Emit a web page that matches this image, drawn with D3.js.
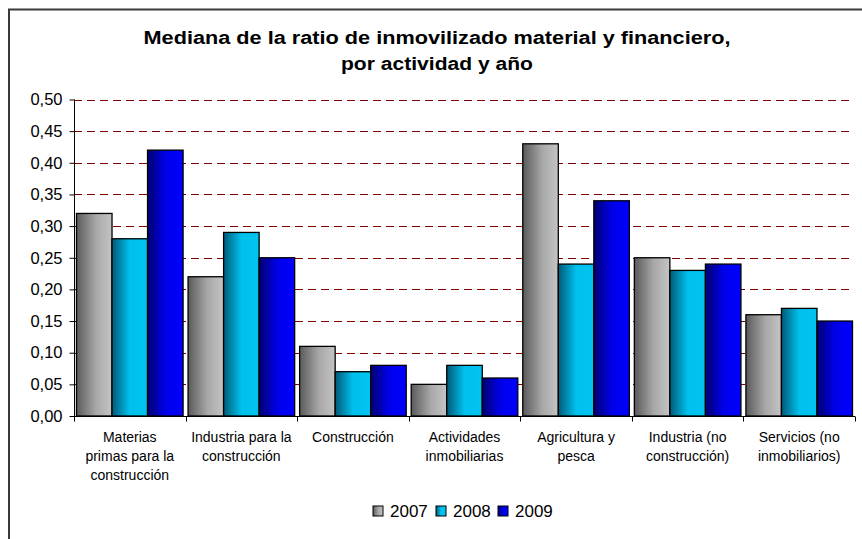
<!DOCTYPE html>
<html>
<head>
<meta charset="utf-8">
<script src="https://cdn.jsdelivr.net/npm/d3@7"></script>
<style>
  html, body { margin: 0; padding: 0; background: #fff; }
  svg { display: block; }
  text { font-family: Arial, "Liberation Sans", sans-serif; }
</style>
</head>
<body>
<svg id="chart" width="862" height="539"></svg>
<script>
// Median ratio of tangible and financial fixed assets, by activity and year
const categories = [
  ["Materias", "primas para la", "construcción"],
  ["Industria para la", "construcción"],
  ["Construcción"],
  ["Actividades", "inmobiliarias"],
  ["Agricultura y", "pesca"],
  ["Industria (no", "construcción)"],
  ["Servicios (no", "inmobiliarios)"]
];
const years = ["2007", "2008", "2009"];
const values2007 = [0.32, 0.22, 0.11, 0.05, 0.43, 0.25, 0.16];
const values2008 = [0.28, 0.29, 0.07, 0.08, 0.24, 0.23, 0.17];
const values2009 = [0.42, 0.25, 0.08, 0.06, 0.34, 0.24, 0.15];
const yTicks = [0, 0.05, 0.10, 0.15, 0.20, 0.25, 0.30, 0.35, 0.40, 0.45, 0.50];
const titleLines = ["Mediana de la ratio de inmovilizado material y financiero,", "por actividad y año"];

const series = [values2007, values2008, values2009];

const svg = d3.select("#chart");
const W = 862, H = 539;
const plot = { left: 74, right: 855, top: 99.5, bottom: 416 };

// Outer frame (right and bottom edges run past the canvas)
svg.append("rect")
  .attr("x", 9).attr("y", 9.5)
  .attr("width", W + 20).attr("height", H + 20)
  .attr("fill", "#fff")
  .attr("stroke", "#3a3a3a").attr("stroke-width", 2);

// Gradients: dark on the left, light on the right
const defs = svg.append("defs");
const gradStops = [
  [["0%", "#5a5a5a"], ["55%", "#a8a8a8"], ["100%", "#c4c4c4"]],
  [["0%", "#005a78"], ["50%", "#00c0ec"], ["100%", "#00c4f0"]],
  [["0%", "#000070"], ["50%", "#0000e8"], ["100%", "#0000ff"]]
];
gradStops.forEach((stops, i) => {
  const g = defs.append("linearGradient")
    .attr("id", "g" + i).attr("x1", "0%").attr("x2", "100%").attr("y1", "0%").attr("y2", "0%");
  stops.forEach(s => g.append("stop").attr("offset", s[0]).attr("stop-color", s[1]));
});

const x0 = d3.scaleBand()
  .domain(d3.range(categories.length))
  .range([plot.left, plot.right])
  .paddingInner(0).paddingOuter(0);
const x1 = d3.scaleBand()
  .domain(d3.range(years.length))
  .range([0, x0.bandwidth()])
  .paddingOuter(0.07).paddingInner(0);
const y = d3.scaleLinear().domain([0, 0.5]).range([plot.bottom, plot.top]);

// Dashed gridlines
svg.append("g")
  .selectAll("line")
  .data(yTicks.filter(t => t > 0))
  .join("line")
  .attr("x1", plot.left).attr("x2", plot.right - 5)
  .attr("y1", d => Math.round(y(d)) + 0.5).attr("y2", d => Math.round(y(d)) + 0.5)
  .attr("stroke", "#800000")
  .attr("stroke-width", 1)
  .attr("stroke-dasharray", "8,5");

// Bars
const groups = svg.append("g")
  .selectAll("g")
  .data(categories.map((c, i) => i))
  .join("g")
  .attr("transform", i => `translate(${x0(i)},0)`);

groups.selectAll("rect")
  .data(i => series.map((s, k) => ({ k, v: s[i] })))
  .join("rect")
  .attr("x", d => x1(d.k))
  .attr("width", x1.bandwidth())
  .attr("y", d => y(d.v))
  .attr("height", d => y(0) - y(d.v))
  .attr("fill", d => `url(#g${d.k})`)
  .attr("stroke", "#000")
  .attr("stroke-width", 1.3);

// Y axis
const yAxis = d3.axisLeft(y)
  .tickValues(yTicks)
  .tickSize(5)
  .tickPadding(7)
  .tickFormat(d => d3.format(".2f")(d).replace(".", ","));
const gy = svg.append("g")
  .attr("transform", `translate(${plot.left + 0.5},0)`)
  .call(yAxis);
gy.select(".domain").attr("stroke", "#000").attr("d", `M0,${plot.top}V${plot.bottom}`);
gy.selectAll(".tick line").attr("stroke", "#000");
gy.selectAll(".tick text")
  .attr("font-size", "16.5px").attr("fill", "#000")
  .attr("font-family", "Arial, 'Liberation Sans', sans-serif");

// X axis (ticks at band boundaries)
const gx = svg.append("g").attr("transform", `translate(0,${plot.bottom + 0.5})`);
gx.append("line")
  .attr("x1", plot.left).attr("x2", plot.right)
  .attr("stroke", "#000");
const bounds = d3.range(categories.length + 1).map(i => i < categories.length ? x0(i) : x0(i - 1) + x0.bandwidth());
gx.selectAll("line.tk")
  .data(bounds)
  .join("line").attr("class", "tk")
  .attr("x1", d => Math.round(d) + 0.5).attr("x2", d => Math.round(d) + 0.5)
  .attr("y1", 0).attr("y2", 5)
  .attr("stroke", "#000");

// Category labels
const labels = svg.append("g")
  .selectAll("text")
  .data(categories.map((c, i) => ({ c, i })))
  .join("text")
  .attr("text-anchor", "middle")
  .attr("font-size", "14px")
  .attr("fill", "#000")
  .attr("x", d => x0(d.i) + x0.bandwidth() / 2)
  .attr("y", 442);
labels.selectAll("tspan")
  .data(d => d.c.map((line, j) => ({ line, j, x: x0(d.i) + x0.bandwidth() / 2 })))
  .join("tspan")
  .attr("x", d => d.x)
  .attr("dy", d => d.j === 0 ? 0 : 19)
  .text(d => d.line);

// Title (wide bold lettering)
const titleWidths = [587, 192];
svg.append("g")
  .selectAll("text")
  .data(titleLines)
  .join("text")
  .attr("text-anchor", "middle")
  .attr("font-size", "18px")
  .attr("font-weight", "bold")
  .attr("fill", "#000")
  .attr("x", 437)
  .attr("y", (d, i) => 44 + i * 26)
  .attr("textLength", (d, i) => titleWidths[i])
  .attr("lengthAdjust", "spacingAndGlyphs")
  .text(d => d);

// Legend
const legendX = [373, 436, 498];
const lg = svg.append("g")
  .selectAll("g")
  .data(years.map((yr, k) => ({ yr, k })))
  .join("g")
  .attr("transform", d => `translate(${legendX[d.k]},${506})`);
lg.append("rect")
  .attr("width", 10).attr("height", 10)
  .attr("fill", d => `url(#g${d.k})`)
  .attr("stroke", "#000").attr("stroke-width", 1);
lg.append("text")
  .attr("x", 17).attr("y", 11)
  .attr("font-size", "17px")
  .attr("fill", "#000")
  .text(d => d.yr);
</script>
</body>
</html>
